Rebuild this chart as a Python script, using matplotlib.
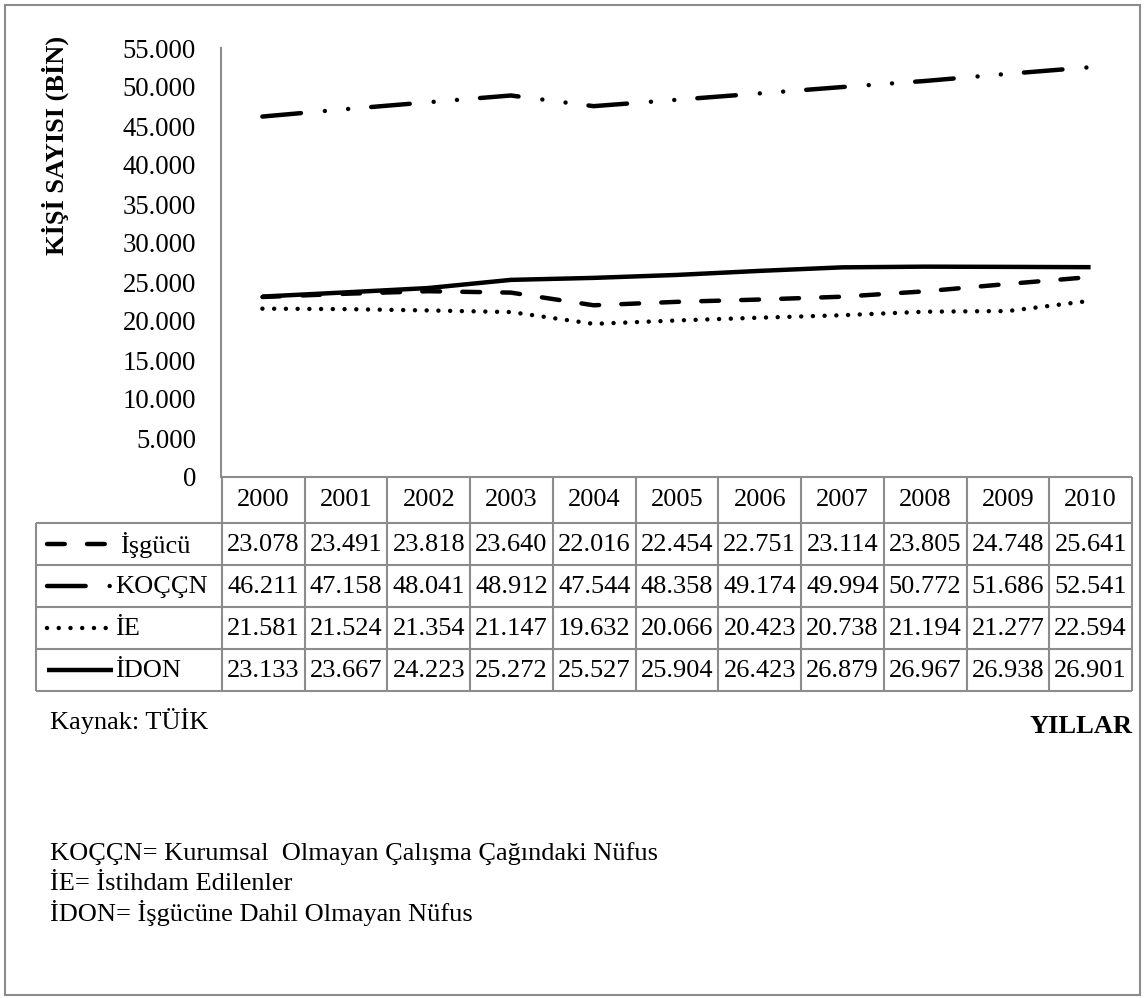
import matplotlib
matplotlib.use("Agg")
import matplotlib.pyplot as plt
from matplotlib.lines import Line2D
from matplotlib.patches import Rectangle

plt.rcParams['font.family'] = ['Liberation Serif', 'DejaVu Serif']
FS = 19
plt.rcParams['font.size'] = FS

years = ["2000", "2001", "2002", "2003", "2004", "2005", "2006", "2007", "2008", "2009", "2010"]
isgucu = [23078, 23491, 23818, 23640, 22016, 22454, 22751, 23114, 23805, 24748, 25641]
koccn = [46211, 47158, 48041, 48912, 47544, 48358, 49174, 49994, 50772, 51686, 52541]
ie = [21581, 21524, 21354, 21147, 19632, 20066, 20423, 20738, 21194, 21277, 22594]
idon = [23133, 23667, 24223, 25272, 25527, 25904, 26423, 26879, 26967, 26938, 26901]
series_names = ["İşgücü", "KOÇÇN", "İE", "İDON"]
yticks = list(range(0, 55001, 5000))

W, H = 1147, 998
LW = 3.2
styles = [
    dict(linestyle=(0, (4.0, 5.0))),
    dict(linestyle=(0, (8.7, 5.4, 0.01, 5.25, 0.01, 5.2))),
    dict(linestyle=(0, (0.01, 2.63))),
    dict(linestyle="-"),
]
grid_c = "#8c8c8c"


def fx(px):
    return px / W


def fy(py):
    return 1 - py / H


fig = plt.figure(figsize=(W / 100, H / 100), dpi=100)

# chart area
ax = fig.add_axes([fx(221), fy(477), fx(1132 - 221), (477 - 48) / H])
x = list(range(len(years)))
for vals, st in zip([isgucu, koccn, ie, idon], styles):
    ax.plot(x, vals, color="black", lw=LW, dash_capstyle="round",
            solid_capstyle="butt", **st)
ax.set_xlim(-0.5, len(years) - 0.5)
ax.set_ylim(0, 55000)
ax.set_yticks(yticks)
ax.set_yticklabels([f"{v:,}".replace(",", ".") for v in yticks])
ax.tick_params(axis="y", length=0, pad=18, labelsize=19.3)
ax.set_xticks([])
for s in ["top", "right", "bottom"]:
    ax.spines[s].set_visible(False)
ax.spines["left"].set_color(grid_c)
ax.spines["left"].set_linewidth(1.5)

fig.text(fx(55), fy(145), "KİŞİ SAYISI (BİN)", rotation=90, fontweight="bold",
         ha="center", va="center", fontsize=FS)

# data table under the chart
col_w = (1132 - 222) / len(years)
lab_w = (222 - 36) / col_w
tax = fig.add_axes([fx(36), fy(691), fx(1132 - 36), (691 - 477) / H])
x0 = -0.5 - lab_w
x1 = len(years) - 0.5
edges = [0, 1.1, 2.1, 3.1, 4.1, 5.1]
tax.set_xlim(x0, x1)
tax.set_ylim(edges[-1], edges[0])
tax.axis("off")

kw = dict(color=grid_c, lw=1.5, clip_on=False)
tax.hlines(edges[0], -0.5, x1, **kw)
tax.hlines(edges[1:], x0, x1, **kw)
tax.vlines(x0, edges[1], edges[-1], **kw)
tax.vlines([i - 0.5 for i in range(len(years) + 1)], edges[0], edges[-1], **kw)

for i, yr in enumerate(years):
    tax.text(i, (edges[0] + edges[1]) / 2, yr, ha="center", va="center", fontsize=FS)


def px2x(px):
    return (px - 222) / col_w - 0.5


for r, (name, vals, st) in enumerate(zip(series_names, [isgucu, koccn, ie, idon], styles)):
    yc = (edges[r + 1] + edges[r + 2]) / 2
    for i, v in enumerate(vals):
        tax.text(i, yc + 0.03, f"{v:,}".replace(",", "."), ha="center", va="center", fontsize=FS)
    end = 106 if r < 3 else 113
    if r == 1:
        end = 110
    tax.add_line(Line2D([px2x(47), px2x(end)], [yc, yc], color="black", lw=LW,
                        dash_capstyle="round", solid_capstyle="butt", **st))
    tx = 120 if r == 0 else 115
    tax.text(px2x(tx), yc + 0.03, name, ha="left", va="center", fontsize=FS)

# notes
fig.text(fx(50), fy(729), "Kaynak: TÜİK", ha="left", va="baseline", fontsize=FS)
fig.text(fx(1132), fy(733), "YILLAR", ha="right", va="baseline", fontsize=FS, fontweight="bold")
notes = ["KOÇÇN= Kurumsal  Olmayan Çalışma Çağındaki Nüfus",
         "İE= İstihdam Edilenler",
         "İDON= İşgücüne Dahil Olmayan Nüfus"]
for k, t in enumerate(notes):
    fig.text(fx(50), fy(860 + 30.5 * k), t, ha="left", va="baseline", fontsize=FS)

# outer frame
fig.patches.append(Rectangle((fx(5), fy(995)), fx(1140 - 5), (995 - 5) / H,
                             transform=fig.transFigure, fill=False,
                             edgecolor=grid_c, lw=1.5))

fig.savefig("out.png", dpi=100)
